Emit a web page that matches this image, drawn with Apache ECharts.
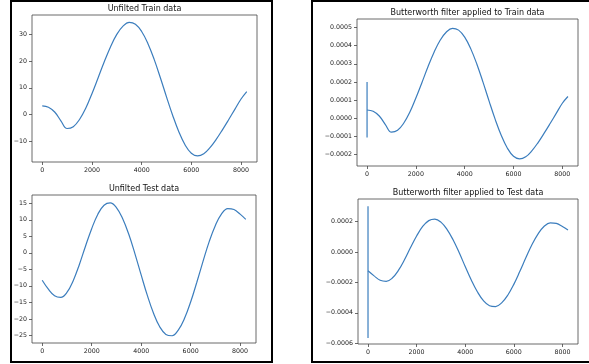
<!DOCTYPE html>
<html>
<head>
<meta charset="utf-8">
<script src="https://cdn.jsdelivr.net/npm/echarts@6/dist/echarts.min.js"></script>
<style>html,body{margin:0;padding:0;background:#fff}#c{width:589px;height:364px}</style>
</head>
<body>
<div id="c"></div>
<script>
const xPos = [0,250,500,750,1000,1250,1500,1750,2000,2250,2500,2750,3000,3250,3500,3750,4000,4250,4500,4750,5000,5250,5500,5750,6000,6250,6500,6750,7000,7250,7500,7750,8000,8230];
const trainRaw = [3.2,2.7,0.9,-2.4,-5.3,-4.6,-1.9,2.3,7.8,13.8,19.9,25.5,30.1,33.2,34.6,33.9,31.2,26.7,20.8,13.9,6.6,-0.4,-6.6,-11.5,-14.6,-15.6,-14.8,-12.5,-9.4,-5.8,-2.0,1.9,5.8,8.6];
const testRaw = [-8.3,-11.0,-13.0,-13.5,-12.0,-8.5,-3.6,2.0,7.3,11.7,14.4,15.1,13.7,10.4,5.6,-0.3,-6.7,-12.9,-18.3,-22.4,-24.7,-25.1,-23.4,-19.9,-14.9,-8.9,-2.6,3.4,8.3,11.8,13.4,13.1,11.7,10.1];
const trainFilt = [0.0000458,0.0000386,0.0000129,-0.0000343,-0.0000758,-0.0000658,-0.0000272,0.0000329,0.0001115,0.0001973,0.0002846,0.0003647,0.0004304,0.0004748,0.0004948,0.0004848,0.0004462,0.0003818,0.0002974,0.0001988,0.0000944,-0.0000057,-0.0000944,-0.0001645,-0.0002088,-0.0002231,-0.0002116,-0.0001788,-0.0001344,-0.0000829,-0.0000286,0.0000272,0.0000829,0.000120];
const testFilt = [-0.000124,-0.0001573,-0.0001859,-0.0001931,-0.0001716,-0.0001216,-0.0000515,0.0000286,0.0001044,0.0001673,0.0002059,0.0002159,0.0001959,0.0001487,0.0000801,-0.0000043,-0.0000958,-0.0001845,-0.0002617,-0.0003203,-0.0003532,-0.0003589,-0.0003346,-0.0002846,-0.0002131,-0.0001273,-0.0000372,0.0000486,0.0001187,0.0001687,0.0001916,0.0001873,0.0001673,0.0001444];
const trainSpike = [0.0002,-0.000105,0.0000458];
const testSpike = [0.0003,-0.000565,-0.000124];
const xTicks = [0,2000,4000,6000,8000];
const trainRawTicks = [-10,0,10,20,30];
const testRawTicks = [-25,-20,-15,-10,-5,0,5,10,15];
const trainFiltTicks = [-0.0002,-0.0001,0,0.0001,0.0002,0.0003,0.0004,0.0005];
const testFiltTicks = [-0.0006,-0.0004,-0.0002,0,0.0002];
const titles = ['Unfilted Train data','Unfilted Test data','Butterworth filter applied to Train data','Butterworth filter applied to Test data'];

const FONT = 'DejaVu Sans';
const LINE = '#3b7dbd';
const pair = (xs, ys) => xs.map((x, i) => [x, ys[i]]);
const minus = s => s.replace('-', '\u2212');
const intFmt = v => minus(String(Math.round(v)));
const decFmt = v => minus((Math.abs(v) < 1e-12 ? 0 : v).toFixed(4));

const grids = [
  {left: 32, top: 15, width: 225, height: 147},
  {left: 32, top: 195, width: 224, height: 148},
  {left: 357, top: 19, width: 221, height: 147},
  {left: 358, top: 199, width: 220, height: 145}
];
const yCfg = [
  {min: -17.9, max: 37.4, ticks: trainRawTicks, fmt: intFmt},
  {min: -27.3, max: 17.5, ticks: testRawTicks, fmt: intFmt},
  {min: -0.000262, max: 0.000546, ticks: trainFiltTicks, fmt: decFmt},
  {min: -0.000605, max: 0.000348, ticks: testFiltTicks, fmt: decFmt}
];

const option = {
  animation: false,
  backgroundColor: '#fff',
  grid: grids.map(g => Object.assign({show: true, borderColor: '#444', borderWidth: 0.8, backgroundColor: 'transparent'}, g)),
  xAxis: grids.map((g, i) => ({
    type: 'value', gridIndex: i, min: -412, max: 8642, position: 'bottom',
    splitLine: {show: false},
    axisLine: {show: false, onZero: false},
    axisTick: {show: true, length: 3, inside: false, lineStyle: {color: '#444', width: 0.8}, customValues: xTicks},
    axisLabel: {show: true, margin: 5, fontSize: 6.3, fontFamily: FONT, color: '#222', customValues: xTicks, formatter: intFmt}
  })),
  yAxis: yCfg.map((c, i) => ({
    type: 'value', gridIndex: i, min: c.min, max: c.max, position: 'left',
    splitLine: {show: false},
    axisLine: {show: false, onZero: false},
    axisTick: {show: true, length: 3, inside: false, lineStyle: {color: '#444', width: 0.8}, customValues: c.ticks},
    axisLabel: {show: true, margin: 5, fontSize: 6.3, fontFamily: FONT, color: '#222', customValues: c.ticks, formatter: c.fmt}
  })),
  series: [
    {type: 'line', xAxisIndex: 0, yAxisIndex: 0, data: pair(xPos, trainRaw), smooth: 0.4, showSymbol: false, lineStyle: {color: LINE, width: 1.2}},
    {type: 'line', xAxisIndex: 1, yAxisIndex: 1, data: pair(xPos, testRaw), smooth: 0.4, showSymbol: false, lineStyle: {color: LINE, width: 1.2}},
    {type: 'line', xAxisIndex: 2, yAxisIndex: 2, data: pair(xPos, trainFilt), smooth: 0.4, showSymbol: false, lineStyle: {color: LINE, width: 1.2}},
    {type: 'line', xAxisIndex: 3, yAxisIndex: 3, data: pair(xPos, testFilt), smooth: 0.4, showSymbol: false, lineStyle: {color: LINE, width: 1.2}},
    {type: 'line', xAxisIndex: 2, yAxisIndex: 2, data: trainSpike.map(v => [0, v]), showSymbol: false, lineStyle: {color: LINE, width: 1.2}},
    {type: 'line', xAxisIndex: 3, yAxisIndex: 3, data: testSpike.map(v => [0, v]), showSymbol: false, lineStyle: {color: LINE, width: 1.2}}
  ],
  graphic: [
    {type: 'rect', shape: {x: 11, y: 1, width: 261, height: 361}, style: {fill: 'none', stroke: '#000', lineWidth: 2}},
    {type: 'rect', shape: {x: 312, y: 1, width: 300, height: 361}, style: {fill: 'none', stroke: '#000', lineWidth: 2}}
  ].concat(grids.map((g, i) => ({
    type: 'text', x: g.left + g.width / 2, y: g.top - 6,
    style: {text: titles[i], textAlign: 'center', textVerticalAlign: 'middle', font: '8px "DejaVu Sans"', fill: '#111'}
  })))
};
const chart = echarts.init(document.getElementById('c'), null, {renderer: 'canvas'});
chart.setOption(option);
</script>
</body>
</html>
